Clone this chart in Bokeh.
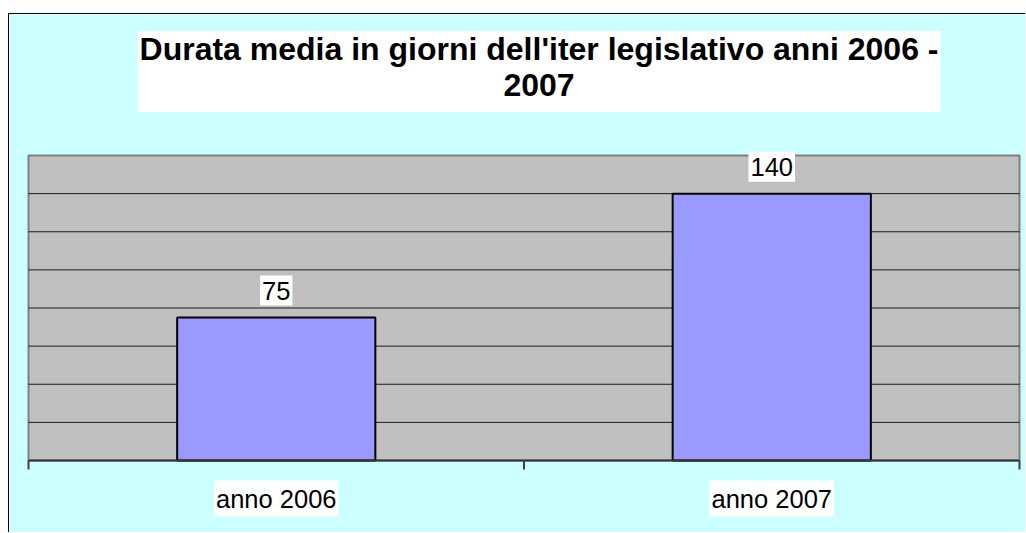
import math
from bokeh.plotting import figure
from bokeh.models import ColumnDataSource, Label, Spacer
from bokeh.layouts import column, row
from bokeh.embed import file_html
from bokeh.resources import INLINE

# ---- data ----
categories = ["anno 2006", "anno 2007"]
durations = [75, 140]
y_ticks = [0, 20, 40, 60, 80, 100, 120, 140, 160]
title_text = "Durata media in giorni dell'iter legislativo anni 2006 -\n2007"

FONT = "Liberation Sans"

n = len(categories)
ymax = y_ticks[-1]
xpos = [i + 0.5 for i in range(n)]
src = ColumnDataSource(dict(x=xpos, cat=categories, val=durations))

# canvas geometry (pixels) -> ranges so that the plot area lands where the reference has it
W, H = 1017, 519
left_px, right_px = 19, 1010        # plot area x extent on canvas
top_px, bottom_px = 141, 446        # plot area y extent on canvas (from top)
xs = (right_px - left_px) / n
ys = (bottom_px - top_px) / ymax
x_start = -left_px / xs
x_end = n + (W - right_px) / xs
y_start = -(H - bottom_px) / ys
y_end = ymax + top_px / ys

p = figure(width=W, height=H, x_range=(x_start, x_end), y_range=(y_start, y_end),
           x_axis_type=None, y_axis_type=None, output_backend="svg", toolbar_location=None,
           min_border=0, background_fill_color="#CCFFFF", border_fill_color="#CCFFFF",
           outline_line_color=None,
           styles={"border-left": "1px solid #000000", "border-top": "1px solid #000000"})
p.grid.visible = False

# plot area
p.quad(left=[0], right=[n], bottom=[0], top=[ymax], fill_color="#C0C0C0",
       line_color="#808080", line_width=2)
# horizontal gridlines
inner = y_ticks[1:-1]
p.segment(x0=[0] * len(inner), x1=[n] * len(inner), y0=inner, y1=inner,
          line_color="#1a1a1a", line_width=1)
# bars
p.vbar(x="x", top="val", width=0.4, bottom=0, source=src,
       fill_color="#9999FF", line_color="#000000", line_width=2)
# category axis line and boundary ticks
p.segment(x0=[0], x1=[n], y0=[0], y1=[0], line_color="#333333", line_width=2)
p.ray(x=list(range(n + 1)), y=[0] * (n + 1), length=9, length_units="screen",
      angle=-math.pi / 2, line_color="#404040", line_width=2)

for xv, v, c in zip(xpos, durations, categories):
    p.add_layout(Label(x=xv, y=v, y_offset=27, text=str(v),
                       text_align="center", text_baseline="middle",
                       text_font=FONT, text_font_size="25.5px", text_color="#000000",
                       background_fill_color="#FFFFFF",
                       padding=dict(left=2, right=2, top=6, bottom=6)))
    p.add_layout(Label(x=xv, y=0, y_offset=-38, text=c,
                       text_align="center", text_baseline="middle",
                       text_font=FONT, text_font_size="25.5px", text_color="#000000",
                       background_fill_color="#FFFFFF",
                       padding=dict(left=2, right=2, top=4, bottom=4)))

p.add_layout(Label(x=529.5, y=H - 57, x_units="screen", y_units="screen", text=title_text,
                   text_align="center", text_baseline="middle", text_line_height=1.0,
                   text_font=FONT, text_font_size="32px", text_font_style="bold",
                   text_color="#000000", background_fill_color="#FFFFFF",
                   padding=dict(left=2, right=2, top=0, bottom=9)))

layout = row(Spacer(width=8), column(Spacer(height=13), p))
open("out.html", "w").write(file_html(layout, INLINE))
